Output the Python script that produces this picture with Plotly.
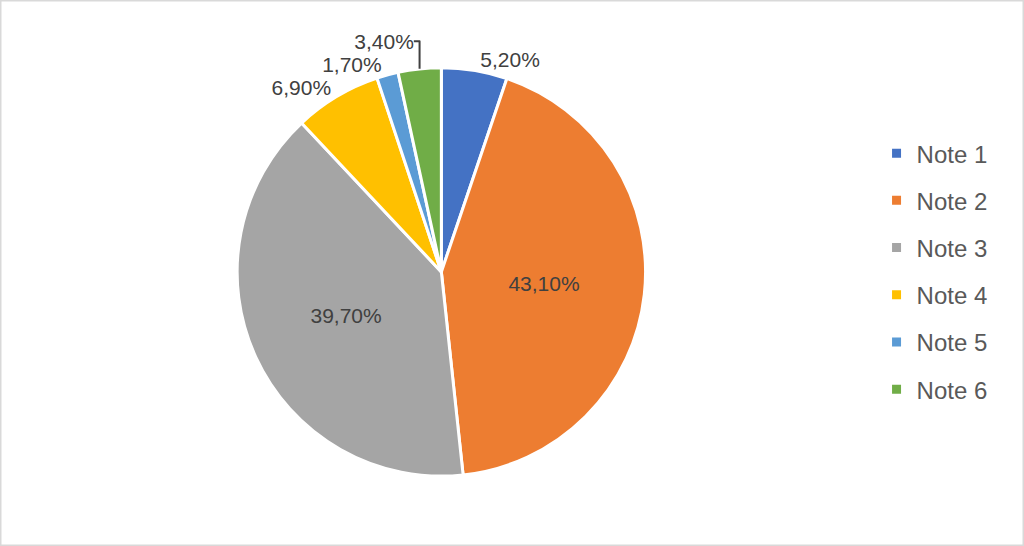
import plotly.graph_objects as go

categories = ["Note 1", "Note 2", "Note 3", "Note 4", "Note 5", "Note 6"]
values = [5.2, 43.1, 39.7, 6.9, 1.7, 3.4]
colors = ["#4472C4", "#ED7D31", "#A5A5A5", "#FFC000", "#5B9BD5", "#70AD47"]
positions = ["outside", "inside", "inside", "outside", "outside", "outside"]

labels_text = [f"{v:.2f}".replace(".", ",") + "%" for v in values]

FONT = "Liberation Sans, Arial"

fig = go.Figure()
fig.add_trace(go.Pie(
    labels=categories,
    values=values,
    text=labels_text,
    textinfo="text",
    textposition=positions,
    insidetextorientation="horizontal",
    sort=False,
    direction="clockwise",
    rotation=0,
    marker=dict(colors=colors, line=dict(color="white", width=3)),
    textfont=dict(family=FONT, size=21, color="#404040"),
    outsidetextfont=dict(family=FONT, size=21, color="#404040"),
    insidetextfont=dict(family=FONT, size=21, color="#404040"),
    domain=dict(x=[0.231, 0.631], y=[0.128, 0.876]),
    showlegend=False,
    hoverinfo="label+percent",
))

for cat, col in zip(categories, colors):
    fig.add_trace(go.Scatter(
        x=[None], y=[None], mode="markers", name=cat,
        marker=dict(symbol="square", size=9, color=col),
        legendgroup=cat, showlegend=True,
    ))

fig.update_layout(
    width=1024, height=546,
    margin=dict(l=0, r=0, t=0, b=0),
    paper_bgcolor="white", plot_bgcolor="white",
    xaxis=dict(visible=False), yaxis=dict(visible=False),
    legend=dict(
        x=0.856, y=0.76, xanchor="left", yanchor="top",
        font=dict(family=FONT, size=24, color="#595959"),
        tracegroupgap=13, itemwidth=30, bgcolor="rgba(0,0,0,0)",
    ),
    shapes=[dict(type="rect", xref="paper", yref="paper", x0=0, y0=0, x1=1, y1=1,
                 line=dict(color="#D9D9D9", width=3))],
)

fig.write_html(
    "out.html",
    config={"displayModeBar": False},
    post_script="document.body.style.margin='0';document.body.style.padding='0';document.body.style.overflow='hidden';",
)
